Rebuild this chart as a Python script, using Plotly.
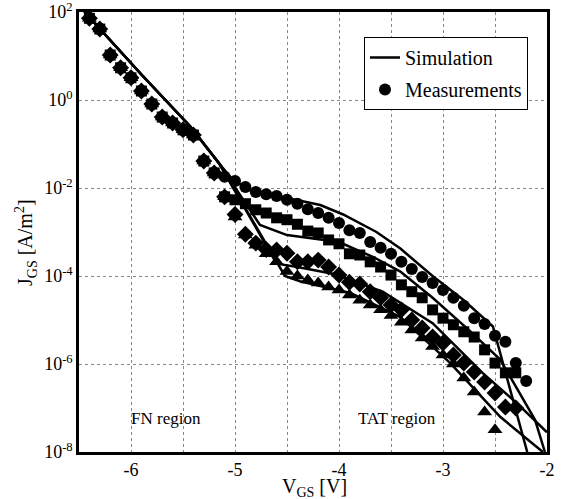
import plotly.graph_objects as go

# ---------------- data ----------------
# measured points shared by all four curves (Fowler-Nordheim region)
V_fn = [-6.4, -6.3, -6.2, -6.1, -6.0, -5.9, -5.8, -5.7, -5.6, -5.5, -5.4, -5.3, -5.2]
J_fn = [72, 41, 10.5, 5.4, 3.2, 1.6, 0.81, 0.41, 0.30, 0.21, 0.16, 0.041, 0.022]

V_circ = [-5.1, -5.0, -4.9, -4.8, -4.7, -4.6, -4.5, -4.4, -4.3, -4.2, -4.1, -4.0, -3.9, -3.8, -3.7,
          -3.6, -3.5, -3.4, -3.3, -3.2, -3.1, -3.0, -2.9, -2.8, -2.7, -2.6, -2.5, -2.4, -2.3, -2.2]
J_circ = [1.8e-2, 1.45e-2, 1.05e-2, 8.1e-3, 7.2e-3, 6.6e-3, 5.4e-3, 4.4e-3, 3.3e-3, 2.7e-3, 2.1e-3,
          1.6e-3, 1.1e-3, 9.5e-4, 5.9e-4, 4.4e-4, 3.2e-4, 2.1e-4, 1.45e-4, 9.5e-5, 6.9e-5, 4.8e-5,
          3.2e-5, 2.1e-5, 1.1e-5, 8.1e-6, 4.4e-6, 3.2e-6, 1.05e-6, 4.1e-7]

V_sq = [-5.1, -5.0, -4.9, -4.8, -4.7, -4.6, -4.5, -4.4, -4.3, -4.2, -4.1, -4.0, -3.9, -3.8, -3.7,
        -3.6, -3.5, -3.4, -3.3, -3.2, -3.1, -3.0, -2.9, -2.8, -2.7, -2.6, -2.5, -2.4, -2.3]
J_sq = [6.3e-3, 5.4e-3, 4.4e-3, 3.2e-3, 2.7e-3, 2.1e-3, 1.9e-3, 1.5e-3, 1.05e-3, 9.5e-4, 6.6e-4,
        5.4e-4, 3.2e-4, 3.0e-4, 2.1e-4, 1.6e-4, 1.05e-4, 6.3e-5, 4.4e-5, 3.2e-5, 1.7e-5, 1.1e-5,
        7.8e-6, 5.4e-6, 4.1e-6, 2.1e-6, 1.05e-6, 6.3e-7, 6.3e-7]

V_dia = [-5.1, -5.0, -4.9, -4.8, -4.7, -4.6, -4.5, -4.4, -4.3, -4.2, -4.1, -4.0, -3.9, -3.8, -3.7,
         -3.6, -3.5, -3.4, -3.3, -3.2, -3.1, -3.0, -2.9, -2.8, -2.7, -2.6, -2.5, -2.4, -2.3]
J_dia = [6.3e-3, 2.5e-3, 8.9e-4, 5.6e-4, 4.0e-4, 3.9e-4, 3.3e-4, 2.1e-4, 2.1e-4, 2.3e-4, 1.6e-4,
         1.05e-4, 7.2e-5, 6.6e-5, 4.4e-5, 3.2e-5, 2.2e-5, 1.7e-5, 1.0e-5, 6.6e-6, 4.1e-6, 3.0e-6,
         1.6e-6, 1.05e-6, 6.6e-7, 3.9e-7, 2.2e-7, 1.05e-7, 1.0e-7]

V_tri = [-5.1, -5.0, -4.9, -4.8, -4.7, -4.6, -4.5, -4.4, -4.3, -4.2, -4.1, -4.0, -3.9, -3.8, -3.7,
         -3.6, -3.5, -3.4, -3.3, -3.2, -3.1, -3.0, -2.9, -2.8, -2.7, -2.6, -2.5]
J_tri = [6.3e-3, 2.2e-3, 8.5e-4, 5.0e-4, 3.2e-4, 2.1e-4, 1.26e-4, 1.0e-4, 8.1e-5, 6.9e-5, 5.6e-5,
         4.8e-5, 3.7e-5, 2.8e-5, 2.2e-5, 1.7e-5, 1.26e-5, 8.9e-6, 5.9e-6, 3.9e-6, 2.5e-6, 1.6e-6,
         1.0e-6, 4.8e-7, 2.3e-7, 8.1e-8, 3.2e-8]

# simulation curves
V_sim1 = [-6.46, -6.3, -5.9, -5.43, -5.15, -5.02, -4.85, -4.5, -4.18, -3.96, -3.64, -3.41, -3.1, -2.8, -2.52, -2.19]
J_sim1 = [112, 41.7, 3.8, 0.25, 0.0355, 0.0151, 8.9e-3, 5.9e-3, 4.1e-3, 2.5e-3, 1.0e-3, 4.2e-4, 1.0e-4, 2.8e-5, 7.1e-6, 1e-8]

V_sim2 = [-6.46, -6.3, -5.9, -5.43, -5.15, -4.76, -4.5, -4.18, -4.0, -3.67, -3.41, -3.1, -2.74, -2.45, -2.115, -2.02]
J_sim2 = [112, 41.7, 3.8, 0.25, 0.0355, 1.45e-3, 8.5e-4, 6.6e-4, 5.9e-4, 2.7e-4, 1.26e-4, 3.2e-5, 5.6e-6, 1.26e-6, 5.4e-8, 1e-8]

V_sim3 = [-6.46, -6.3, -5.9, -5.43, -5.15, -4.6, -4.4, -4.06, -3.58, -3.1, -2.62, -2.29, -2.0]
J_sim3 = [112, 41.7, 3.8, 0.25, 0.0355, 1.9e-4, 1.6e-4, 1.12e-4, 4.4e-5, 8.5e-6, 6.3e-7, 1.29e-7, 2.8e-8]

V_sim4 = [-6.46, -6.3, -5.9, -5.43, -5.15, -4.52, -4.375, -3.89, -3.41, -2.93, -2.45, -2.04]
J_sim4 = [112, 41.7, 3.8, 0.25, 0.0355, 1.0e-4, 7.6e-5, 4.1e-5, 1.17e-5, 1.05e-6, 6.3e-8, 1e-8]

x_ticks = [-6, -5, -4, -3, -2]
x_ticktext = ["-6", "-5", "-4", "-3", "-2"]
y_ticks = [1e-8, 1e-6, 1e-4, 1e-2, 1e0, 1e2]
y_ticktext = ["10<sup>-8</sup>", "10<sup>-6</sup>", "10<sup>-4</sup>", "10<sup>-2</sup>",
              "10<sup>0</sup>", "10<sup>2</sup>"]

FONT = "Liberation Serif, Times New Roman, serif"

fig = go.Figure()

sims = [(V_sim1, J_sim1), (V_sim2, J_sim2), (V_sim3, J_sim3), (V_sim4, J_sim4)]
for i, (vx, jy) in enumerate(sims):
    fig.add_trace(go.Scatter(
        x=vx, y=jy, mode="lines", line=dict(color="black", width=2.5),
        name="Simulation", legendgroup="sim", showlegend=(i == 0), hoverinfo="skip"))

meas = [
    (V_fn + V_circ, J_fn + J_circ, "circle", 12),
    (V_fn + V_sq, J_fn + J_sq, "square", 11),
    (V_fn + V_dia, J_fn + J_dia, "diamond", 13),
    (V_fn + V_tri, J_fn + J_tri, "triangle-up", 13),
]
for i, (vx, jy, sym, sz) in enumerate(meas):
    fig.add_trace(go.Scatter(
        x=vx, y=jy, mode="markers",
        marker=dict(symbol=sym, size=sz, color="black", line=dict(width=0)),
        name="Measurements", legendgroup="meas", showlegend=(i == 0), hoverinfo="skip"))

fig.add_annotation(x=-5.66, y=-7.23, xref="x", yref="y", text="FN region",
                   showarrow=False, font=dict(size=17, family=FONT, color="black"))
fig.add_annotation(x=-3.44, y=-7.23, xref="x", yref="y", text="TAT region",
                   showarrow=False, font=dict(size=17, family=FONT, color="black"))

# axis titles
fig.add_annotation(x=(314 - 79) / 468, y=(452 - 487) / 440, xref="paper", yref="paper",
                   xanchor="center", yanchor="middle",
                   text="V<sub>GS</sub> [V]", showarrow=False,
                   font=dict(size=20, family=FONT, color="black"))
fig.add_annotation(x=(26 - 79) / 468, y=(452 - 243) / 440, xref="paper", yref="paper",
                   xanchor="center", yanchor="middle",
                   text="J<sub>GS</sub> [A/m<sup>2</sup>]", showarrow=False, textangle=-90,
                   font=dict(size=20, family=FONT, color="black"))

fig.update_layout(
    width=570, height=499,
    margin=dict(l=79, r=23, t=12, b=47, autoexpand=False),
    paper_bgcolor="white", plot_bgcolor="white",
    font=dict(family=FONT, size=18, color="black"),
    legend=dict(x=(364 - 79) / 468, y=(452 - 37) / 440, xanchor="left", yanchor="top",
                bgcolor="white", bordercolor="black", borderwidth=1,
                font=dict(size=20, family=FONT), tracegroupgap=3),
    xaxis=dict(range=[-6.5, -2.0], tickvals=x_ticks, ticktext=x_ticktext,
               showgrid=True, gridcolor="#888", griddash="dot", gridwidth=1,
               minor=dict(tick0=-6.5, dtick=0.5, showgrid=True, gridcolor="#888",
                          griddash="dot", gridwidth=1, ticks=""),
               showline=True, linecolor="black", linewidth=2.5, mirror=True,
               ticks="", zeroline=False, automargin=False, ticklabeloverflow="allow"),
    yaxis=dict(type="log", range=[-8, 2], tickvals=y_ticks, ticktext=y_ticktext,
               showgrid=True, gridcolor="#888", griddash="dot", gridwidth=1,
               showline=True, linecolor="black", linewidth=2.5, mirror=True,
               ticks="", zeroline=False, automargin=False, ticklabeloverflow="allow"),
)

# remove the browser's default 8px page margin so the figure sits at the window origin
fig.write_html("out.html", config={"displayModeBar": False},
               post_script="document.body.style.margin='0';")
